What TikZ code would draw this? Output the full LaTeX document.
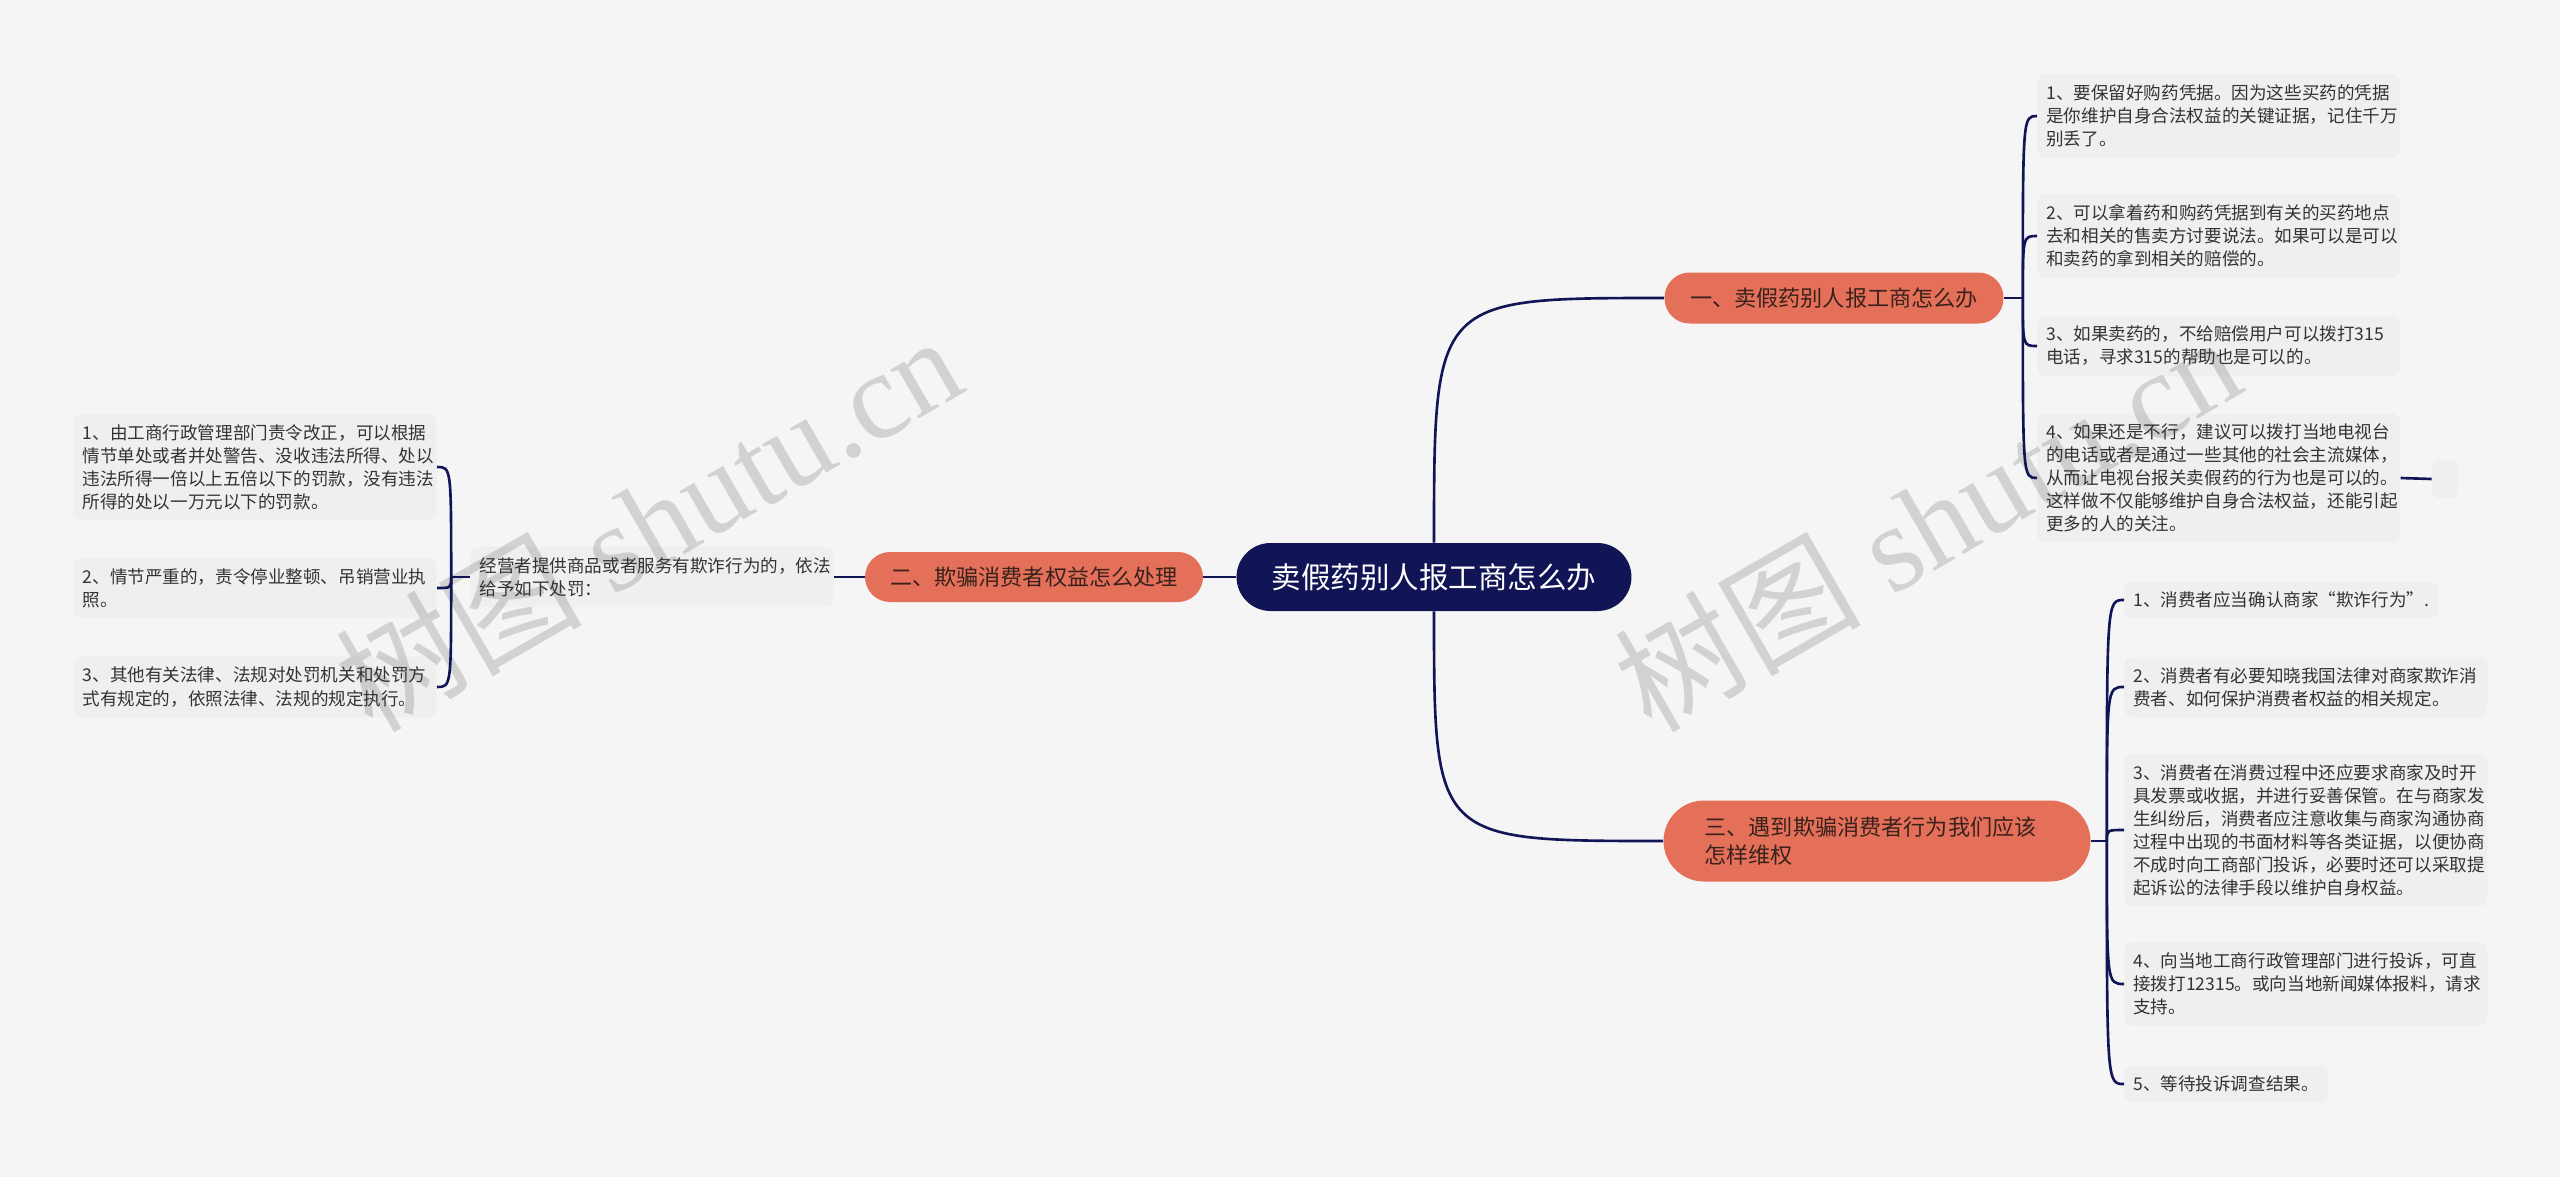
\documentclass[tikz,border=0pt]{standalone}
\usepackage{fontspec}
\usepackage{xcolor}
\usepackage{tikz}
\usetikzlibrary{positioning, calc}

\newfontfamily\cjk{Noto Sans CJK SC}
\newfontfamily\wmserif{Liberation Serif}

\definecolor{bgpaper}{HTML}{F5F5F5}
\definecolor{navy}{HTML}{111556}
\definecolor{salmon}{HTML}{E4705A}
\definecolor{salmontext}{HTML}{3A221C}
\definecolor{leaftext}{HTML}{333333}
\definecolor{markgray}{HTML}{D2D2D2}

\begin{document}
\begin{tikzpicture}[x=0.02cm, y=-0.02cm,
    topic/.style={fill=navy, text=white, rounded corners=0.68cm, minimum width=7.9cm, minimum height=1.36cm, inner sep=0pt, font=\cjk\fontsize{16.8}{20}\selectfont},
    subtopic/.style={fill=salmon, text=salmontext, rounded corners=0.5cm, minimum height=1.02cm, inner sep=0pt, font=\cjk\fontsize{12.6}{15.9}\selectfont},
    detail/.style={fill=black, fill opacity=0.025, text opacity=1, text=leaftext, rounded corners=0.16cm, inner xsep=0.18cm, inner ysep=0.21cm, align=left, font=\cjk\fontsize{10}{13.1}\selectfont},
    detailwide/.style={detail, text width=6.9cm},
    link/.style={draw=navy, line width=1.5pt},
    watermark/.style={text=markgray, rotate=30, font=\wmserif\fontsize{70}{70}\selectfont}
]

    % Paper and page size
    \useasboundingbox (0,0) rectangle (2560,1177);
    \fill[bgpaper] (0,0) rectangle (2560,1177);

    % Watermarks
    \node[watermark] (markleft) at (648,522) {{\cjk 树图} shutu.cn};
    \node[watermark] (markright) at (1927,522) {{\cjk 树图} shutu.cn};

    % Central topic
    \node[topic] (root) at (1434,577) {卖假药别人报工商怎么办};

    % Main branches
    \node[subtopic, minimum width=6.78cm] (buy) at (1834,298) {一、卖假药别人报工商怎么办};
    \node[subtopic, minimum width=6.76cm, minimum height=1.0cm] (cheat) at (1034,577) {二、欺骗消费者权益怎么处理};
    \node[subtopic, text width=6.9cm, align=left, inner xsep=0.82cm, minimum height=1.62cm, rounded corners=0.81cm] (defend) at (1877,841) {三、遇到欺骗消费者行为我们应该\\怎样维权};

    % Branch one details
    \node[detailwide, anchor=west] (buy1) at (2037,116) {1、要保留好购药凭据。因为这些买药的凭据\\是你维护自身合法权益的关键证据，记住千万\\别丢了。};
    \node[detailwide, anchor=west] (buy2) at (2037,236) {2、可以拿着药和购药凭据到有关的买药地点\\去和相关的售卖方讨要说法。如果可以是可以\\和卖药的拿到相关的赔偿的。};
    \node[detailwide, anchor=west] (buy3) at (2037,346) {3、如果卖药的，不给赔偿用户可以拨打315\\电话，寻求315的帮助也是可以的。};
    \node[detailwide, anchor=west] (buy4) at (2037,478) {4、如果还是不行，建议可以拨打当地电视台\\的电话或者是通过一些其他的社会主流媒体，\\从而让电视台报关卖假药的行为也是可以的。\\这样做不仅能够维护自身合法权益，还能引起\\更多的人的关注。};
    \node[detail, minimum width=0.52cm, minimum height=0.78cm, inner sep=0pt] (buy4x) at (2445,479) {};

    % Branch two details
    \node[detailwide] (penalty) at (652,577) {经营者提供商品或者服务有欺诈行为的，依法\\给予如下处罚：};
    \node[detailwide, anchor=east] (pen1) at (437,467) {1、由工商行政管理部门责令改正，可以根据\\情节单处或者并处警告、没收违法所得、处以\\违法所得一倍以上五倍以下的罚款，没有违法\\所得的处以一万元以下的罚款。};
    \node[detailwide, anchor=east] (pen2) at (437,588) {2、情节严重的，责令停业整顿、吊销营业执\\照。};
    \node[detailwide, anchor=east] (pen3) at (437,687) {3、其他有关法律、法规对处罚机关和处罚方\\式有规定的，依照法律、法规的规定执行。};

    % Branch three details
    \node[detail, anchor=west] (def1) at (2124,600) {1、消费者应当确认商家“欺诈行为”.};
    \node[detailwide, anchor=west] (def2) at (2124,687) {2、消费者有必要知晓我国法律对商家欺诈消\\费者、如何保护消费者权益的相关规定。};
    \node[detailwide, anchor=west] (def3) at (2124,830) {3、消费者在消费过程中还应要求商家及时开\\具发票或收据，并进行妥善保管。在与商家发\\生纠纷后，消费者应注意收集与商家沟通协商\\过程中出现的书面材料等各类证据，以便协商\\不成时向工商部门投诉，必要时还可以采取提\\起诉讼的法律手段以维护自身权益。};
    \node[detailwide, anchor=west] (def4) at (2124,984) {4、向当地工商行政管理部门进行投诉，可直\\接拨打12315。或向当地新闻媒体报料，请求\\支持。};
    \node[detail, anchor=west] (def5) at (2124,1084) {5、等待投诉调查结果。};

    % Links from the centre
    \draw[link] (root.north) .. controls (root.north |- buy.west) and (root.north |- buy.west) .. (buy.west);
    \draw[link] (root.south) .. controls (root.south |- defend.west) and (root.south |- defend.west) .. (defend.west);
    \draw[link] (root.west) -- (cheat.east);
    \draw[link] (cheat.west) -- (penalty.east);

    % Forks to the details
    \draw[link] (buy.east) -- ++(19,0) coordinate (buyfork);
    \foreach \leaf in {buy1, buy2, buy3, buy4}
        \draw[link] (buyfork) .. controls (buyfork |- \leaf.west) .. (\leaf.west);
    \draw[link] (buy4.east) -- (buy4x.west);

    \draw[link] (defend.east) -- ++(16,0) coordinate (defendfork);
    \foreach \leaf in {def1, def2, def3, def4, def5}
        \draw[link] (defendfork) .. controls (defendfork |- \leaf.west) .. (\leaf.west);

    \draw[link] (penalty.west) -- ++(-19,0) coordinate (penaltyfork);
    \foreach \leaf in {pen1, pen2, pen3}
        \draw[link] (penaltyfork) .. controls (penaltyfork |- \leaf.east) .. (\leaf.east);

\end{tikzpicture}
\end{document}
